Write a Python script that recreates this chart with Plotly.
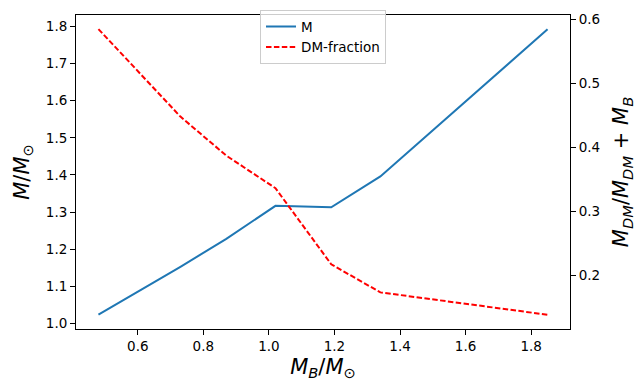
import plotly.graph_objects as go

mb = [0.48, 0.73, 0.87, 1.02, 1.19, 1.34, 1.85]
m_total = [1.024, 1.153, 1.228, 1.317, 1.313, 1.396, 1.792]
dm_fraction = [0.585, 0.448, 0.387, 0.336, 0.217, 0.173, 0.138]

x_ticks = [0.6, 0.8, 1.0, 1.2, 1.4, 1.6, 1.8]
y_ticks = [1.0, 1.1, 1.2, 1.3, 1.4, 1.5, 1.6, 1.7, 1.8]
y2_ticks = [0.2, 0.3, 0.4, 0.5, 0.6]

font = "DejaVu Sans"
fig = go.Figure()
fig.add_trace(go.Scatter(x=mb, y=m_total, mode="lines", name="M",
                         line=dict(color="#1f77b4", width=2)))
fig.add_trace(go.Scatter(x=mb, y=dm_fraction, mode="lines", name="DM-fraction",
                         yaxis="y2",
                         line=dict(color="red", width=2, dash="5.5px,2.4px")))

axis_common = dict(showgrid=False, zeroline=False, showline=True, linecolor="black",
                   linewidth=1, ticks="outside", ticklen=5, tickwidth=1, automargin=False,
                   tickcolor="black", tickfont=dict(family=font, size=13.5, color="black"))

fig.update_layout(
    width=638, height=381,
    margin=dict(l=76, r=68, t=10, b=52),
    paper_bgcolor="white", plot_bgcolor="white",
    font=dict(family=font, color="black"),
    xaxis=dict(range=[0.4115, 1.9185], tickvals=x_ticks,
               ticktext=[f"{v:.1f}" for v in x_ticks], mirror=True,
               title=dict(text="<i>M</i><sub><i>B</i></sub>/<i>M</i><sub>⊙</sub>",
                          font=dict(size=21, family=font), standoff=12),
               **axis_common),
    yaxis=dict(range=[0.9856, 1.8304], tickvals=y_ticks,
               ticktext=[f"{v:.1f}" for v in y_ticks],
               title=dict(text="<i>M</i>/<i>M</i><sub>⊙</sub>",
                          font=dict(size=21, family=font), standoff=10),
               **axis_common),
    yaxis2=dict(range=[0.1157, 0.607], tickvals=y2_ticks,
                ticktext=[f"{v:.1f}" for v in y2_ticks],
                overlaying="y", side="right",
                title=dict(text="<i>M</i><sub><i>DM</i></sub>/<i>M</i><sub><i>DM</i></sub> + <i>M</i><sub><i>B</i></sub>",
                           font=dict(size=21, family=font), standoff=14),
                **axis_common),
    legend=dict(x=0.5, xanchor="center", y=1.015, yanchor="top",
                bgcolor="rgba(255,255,255,0.8)", bordercolor="#cccccc", borderwidth=1,
                font=dict(family=font, size=13.5, color="black"),
                tracegroupgap=0, itemwidth=30),
    showlegend=True,
)

fig.write_html("out.html")
